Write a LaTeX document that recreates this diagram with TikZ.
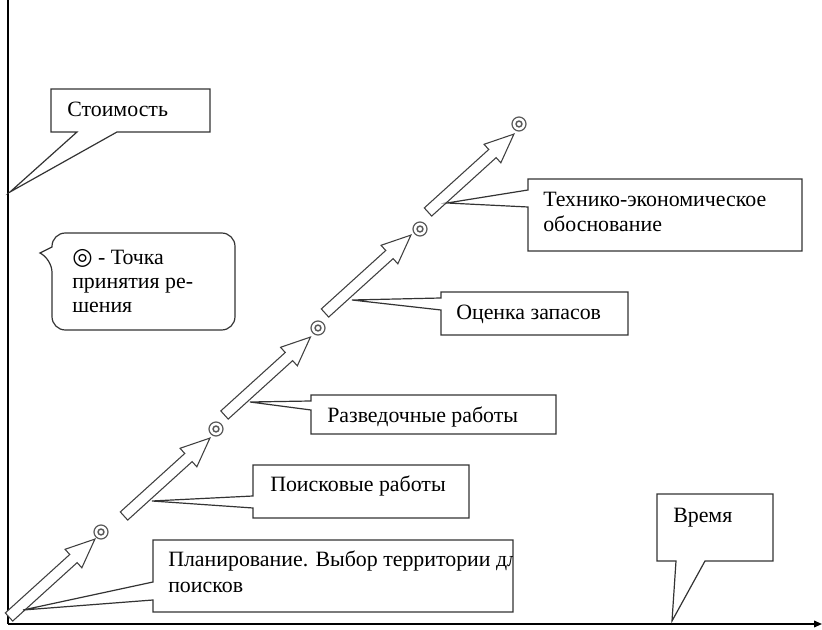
\documentclass[tikz,border=0pt]{standalone}
\usepackage{fontspec}
\setmainfont{Liberation Serif}
\newfontfamily\symfont{DejaVu Sans}
\usetikzlibrary{arrows.meta}
\begin{document}
\begin{tikzpicture}[x=0.75pt,y=-0.75pt,
  co/.style={draw=black!80, line width=0.9pt, line join=miter},
  arrowline/.style={draw=black!75, line width=0.8pt, fill=white, line join=miter},
  axisline/.style={draw=black, line width=1.2pt},
  txt/.style={inner sep=0pt, anchor=base west, align=left, text=black,
    font=\fontsize{16.4}{19}\selectfont},
  dp/.style={circle, draw=black!65, line width=0.9pt, inner sep=0pt, minimum size=10.5pt, fill=white},
  dpin/.style={circle, draw=black!65, line width=1.1pt, inner sep=0pt, minimum size=4.4pt},
  barrow/.pic={\draw[arrowline] (0,-5.5) -- (87,-5.5) -- (87,-12.5) -- (116,0) -- (87,12.5) -- (87,5.5) -- (0,5.5) -- cycle;}
]
\useasboundingbox (0,0) rectangle (822,630);
\fill[white] (0,0) rectangle (822,630);

% axes
\coordinate (ytop) at (8,0);
\coordinate (o) at (8,624);
\coordinate (xend) at (822,624);
\draw[axisline] (ytop) -- (o);
\draw[axisline, -{Triangle[length=6pt,width=5pt]}] (o) -- (xend);

% block arrows
\pic[rotate=42.2] at (9,617) {barrow};
\pic[rotate=42.2] at (124,516) {barrow};
\pic[rotate=42.2] at (224.5,415) {barrow};
\pic[rotate=42.2] at (325,313) {barrow};
\pic[rotate=42.2] at (428,212) {barrow};

% decision points
\node[dp] (c1) at (101,532) {};
\node[dpin] (c1i) at (c1.center) {};
\node[dp] (c2) at (216,429) {};
\node[dpin] (c2i) at (c2.center) {};
\node[dp] (c3) at (318,328) {};
\node[dpin] (c3i) at (c3.center) {};
\node[dp] (c4) at (420,229) {};
\node[dpin] (c4i) at (c4.center) {};
\node[dp] (c5) at (519,124) {};
\node[dpin] (c5i) at (c5.center) {};

% Стоимость
\draw[co, fill=white] (51,89) -- (210,89) -- (210,132) -- (117,132) -- (10,192) -- (77,132) -- (51,132) -- cycle;
\node[txt] (cost) at (67,117) {Стоимость};

% legend
\draw[co, fill=white] (40,253) -- (52,247) [rounded corners=10pt] -- (52,233) -- (235,233) -- (235,330) -- (52,330) -- (52,259) [sharp corners] -- cycle;
\node[txt, font=\fontsize{16.4}{18.3}\selectfont] (legend) at (72,313) {{\symfont\fontsize{17.5}{18.3}\selectfont ◎} - Точка\\принятия ре-\\шения};

% Технико-экономическое обоснование
\draw[co, fill=white] (528,179) -- (802,179) -- (802,251) -- (528,251) -- (528,207) -- (447,203) -- (528,190) -- cycle;
\node[txt] (teo) at (543,232) {Технико-экономическое\\обоснование};

% Оценка запасов
\draw[co, fill=white] (441,292) -- (628,292) -- (628,335) -- (441,335) -- (441,310) -- (352,300) -- (441,298) -- cycle;
\node[txt] (ocenka) at (456,320) {Оценка запасов};

% Разведочные работы
\draw[co, fill=white] (311,395) -- (556,395) -- (556,434) -- (311,434) -- (311,410) -- (250,402) -- (311,401) -- cycle;
\node[txt] (razv) at (327,423) {Разведочные работы};

% Поисковые работы
\draw[co, fill=white] (253,465) -- (469,465) -- (469,518) -- (253,518) -- (253,508) -- (152,501) -- (253,496) -- cycle;
\node[txt] (poisk) at (270,492) {Поисковые работы};

% Планирование
\draw[co, fill=white] (153,540) -- (513,540) -- (513,612) -- (153,612) -- (153,600) -- (23,610) -- (153,582) -- cycle;
\begin{scope}
\clip (154,541) rectangle (512,611);
\node[txt, font=\fontsize{16.4}{20.2}\selectfont] (plan) at (168,593) {Планирование. Выбор территории дл\\поисков};
\end{scope}

% Время
\draw[co, fill=white] (657,494) -- (773,494) -- (773,561) -- (705,561) -- (672,621) -- (676,561) -- (657,561) -- cycle;
\node[txt] (time) at (673,523) {Время};

\end{tikzpicture}
\end{document}
